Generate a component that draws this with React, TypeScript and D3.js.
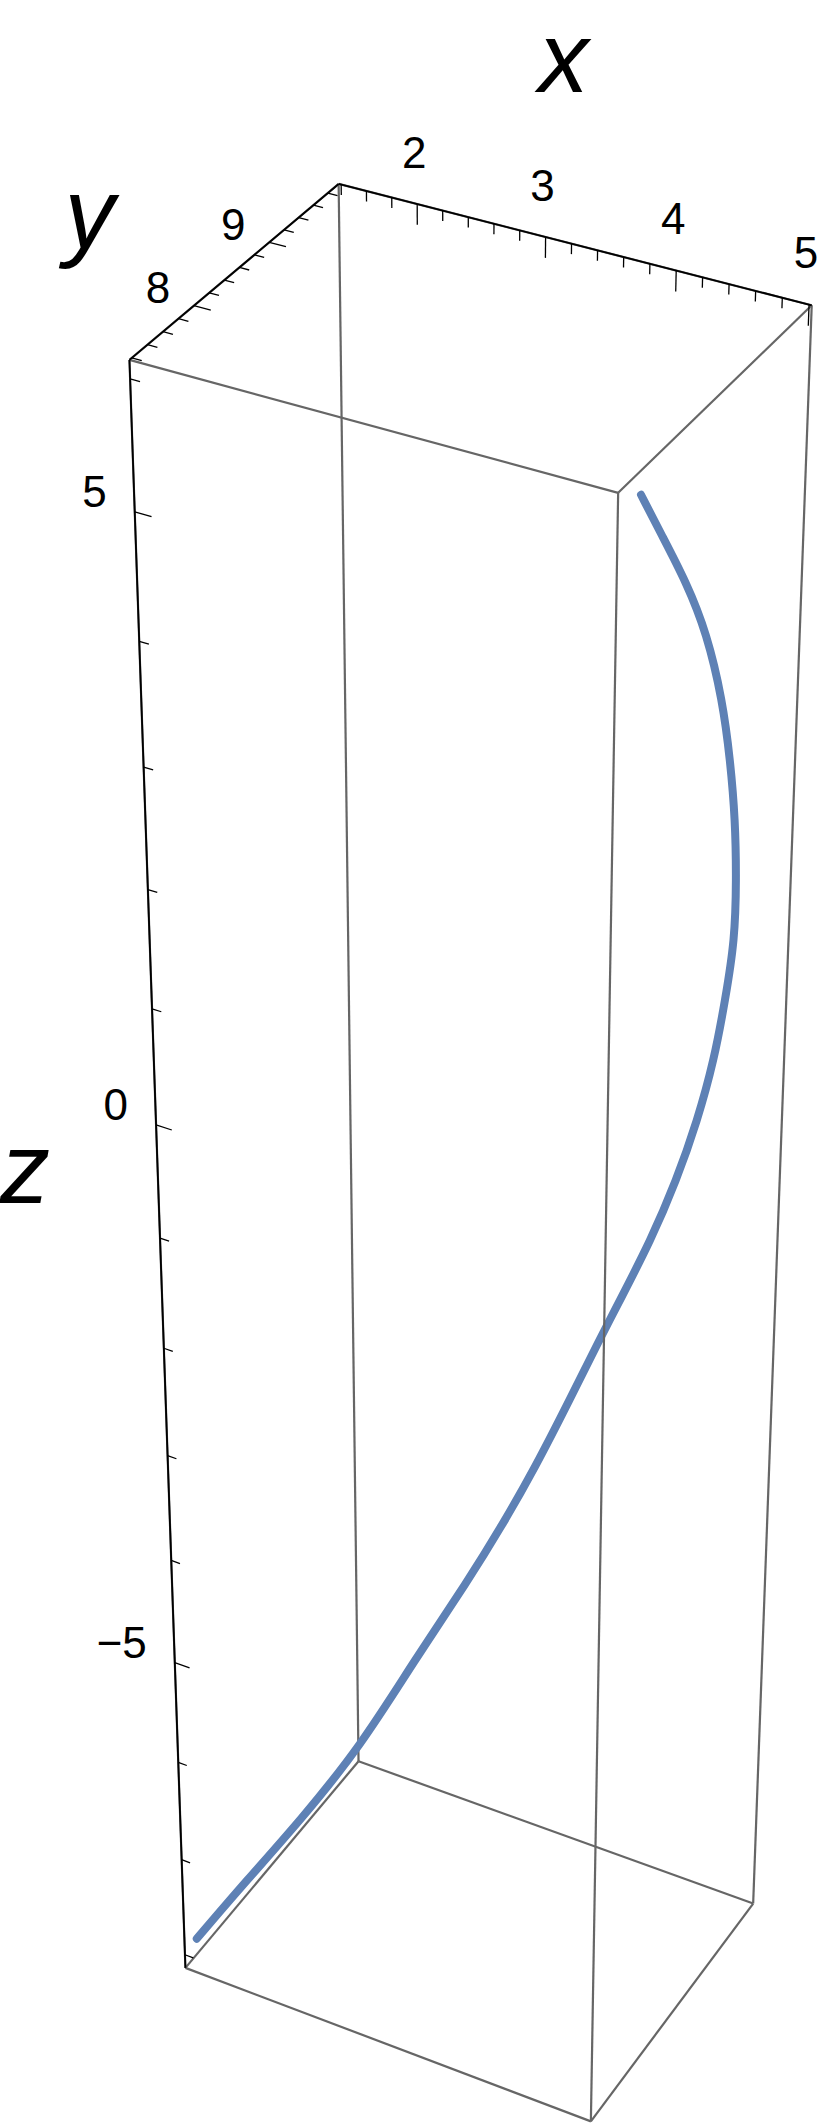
import React from 'react';
import * as d3 from 'd3';

const W = 830;
const H = 2123;

// plot range of the box
const xRange: [number, number] = [1.38, 5.02];
const yRange: [number, number] = [7.17, 9.95];
const zRange: [number, number] = [-8.14, 6.14];

// ticks
const xMajorTicks = [2, 3, 4, 5];
const xTickLabels = ['2', '3', '4', '5'];
const yMajorTicks = [8, 9];
const yTickLabels = ['8', '9'];
const zMajorTicks = [-5, 0, 5];
const zTickLabels = ['\u22125', '0', '5'];
const xMinorTicks = d3.range(7, 26).map(i => i / 5);
const yMinorTicks = d3.range(36, 50).map(i => i / 5);
const zMinorTicks = d3.range(-8, 7);

// space curve
const curveX = [4.98, 4.98, 4.97, 4.96, 4.93, 4.90, 4.85, 4.78, 4.70, 4.58, 4.47, 4.35, 4.24, 4.14, 4.03, 3.98, 3.85, 3.61, 3.45, 3.26, 2.93, 2.60, 2.19, 1.80, 1.42];
const curveY = [7.57, 7.86, 8.28, 8.62, 8.95, 9.16, 9.37, 9.56, 9.73, 9.85, 9.92, 9.91, 9.81, 9.61, 9.34, 9.12, 8.90, 8.81, 8.58, 8.40, 8.15, 7.88, 7.64, 7.45, 7.29];
const curveZ = [5.91, 5.48, 4.88, 4.31, 3.60, 2.99, 2.37, 1.74, 1.11, 0.49, -0.12, -0.70, -1.21, -1.66, -2.07, -2.30, -2.76, -3.43, -3.89, -4.36, -5.09, -5.88, -6.62, -7.26, -7.91];

// where the box corners sit on the page (camera calibration), key = x y z bits
const boxCornersPx: Record<string, [number, number]> = {
  '000': [185, 1968], '100': [591, 2121], '010': [359, 1761], '110': [753, 1904],
  '001': [129, 360], '101': [619, 493], '011': [339, 184], '111': [811, 305],
};

const sx = d3.scaleLinear().domain(xRange).range([0, 1]);
const sy = d3.scaleLinear().domain(yRange).range([0, 1]);
const sz = d3.scaleLinear().domain(zRange).range([0, 1]);

function solveLinear(A: number[][], b: number[]) {
  const n = b.length;
  const M = A.map((r, i) => [...r, b[i]]);
  for (let c = 0; c < n; c++) {
    let piv = c;
    for (let r = c + 1; r < n; r++) if (Math.abs(M[r][c]) > Math.abs(M[piv][c])) piv = r;
    [M[c], M[piv]] = [M[piv], M[c]];
    for (let r = 0; r < n; r++) {
      if (r === c) continue;
      const f = M[r][c] / M[c][c];
      for (let k = c; k <= n; k++) M[r][k] -= f * M[c][k];
    }
  }
  return M.map((r, i) => r[n] / r[i]);
}

// least squares perspective camera through the box corners
function fitCamera() {
  const rows: number[][] = [];
  const rhs: number[] = [];
  Object.entries(boxCornersPx).forEach(([key, [u, v]]) => {
    const [X, Y, Z] = key.split('').map(Number);
    rows.push([X, Y, Z, 1, 0, 0, 0, 0, -u * X, -u * Y, -u * Z]); rhs.push(u);
    rows.push([0, 0, 0, 0, X, Y, Z, 1, -v * X, -v * Y, -v * Z]); rhs.push(v);
  });
  const n = 11;
  const AtA = Array.from({ length: n }, () => Array(n).fill(0));
  const Atb = Array(n).fill(0);
  rows.forEach((r, k) => {
    for (let i = 0; i < n; i++) {
      Atb[i] += r[i] * rhs[k];
      for (let j = 0; j < n; j++) AtA[i][j] += r[i] * r[j];
    }
  });
  return solveLinear(AtA, Atb);
}

const P = fitCamera();

function project(x: number, y: number, z: number): [number, number] {
  const X = sx(x), Y = sy(y), Z = sz(z);
  const w = P[8] * X + P[9] * Y + P[10] * Z + 1;
  return [(P[0] * X + P[1] * Y + P[2] * Z + P[3]) / w, (P[4] * X + P[5] * Y + P[6] * Z + P[7]) / w];
}

const edges: [string, string][] = [
  ['000', '100'], ['010', '110'], ['001', '101'], ['011', '111'],
  ['000', '010'], ['100', '110'], ['001', '011'], ['101', '111'],
  ['000', '001'], ['100', '101'], ['010', '011'], ['110', '111'],
];
const cornerData = (key: string): [number, number, number] => {
  const [a, b, c] = key.split('').map(Number);
  return [xRange[a], yRange[b], zRange[c]];
};

export default function App() {
  const line = d3.line().curve(d3.curveBasis);
  const curvePath = line(curveX.map((x, i) => project(x, curveY[i], curveZ[i])));
  const xSpan = xRange[1] - xRange[0];
  const zSpan = zRange[1] - zRange[0];
  const edgeLine = (e: [string, string], key: string) => {
    const [p1, p2] = [project(...cornerData(e[0])), project(...cornerData(e[1]))];
    return <line key={key} x1={p1[0]} y1={p1[1]} x2={p2[0]} y2={p2[1]} stroke="#666" strokeWidth={2.2} />;
  };
  // edges meeting the far corner sit behind the curve
  const back = edges.filter(e => e.includes('010'));
  const front = edges.filter(e => !e.includes('010'));
  const seg = (a: [number, number], b: [number, number], key: string, sw = 1.3) => (
    <line key={key} x1={a[0]} y1={a[1]} x2={b[0]} y2={b[1]} stroke="#000" strokeWidth={sw} />
  );
  const [x0, x1] = xRange, [y0, y1] = yRange, [z0, z1] = zRange;
  const xTickLen = (major: boolean) => (major ? 0.011 : 0.0055) * zSpan;
  const yzTickLen = (major: boolean) => (major ? 0.036 : 0.021) * xSpan;

  const xMid = project((x0 + x1) / 2, y1, z1);
  const yMid = project(x0, (y0 + y1) / 2, z1);
  const zMid = project(x0, y0, (z0 + z1) / 2);

  return (
    <svg width={W} height={H} style={{ position: 'absolute', left: 0, top: 0, background: '#fff' }}
      fontFamily="'Liberation Sans', Arial, sans-serif">
      {back.map((e, i) => edgeLine(e, 'b' + i))}
      <path d={curvePath || ''} fill="none" stroke="#5E81B5" strokeWidth={8} strokeLinecap="round" />
      {front.map((e, i) => edgeLine(e, 'f' + i))}
      {seg(project(x0, y0, z0), project(x0, y0, z1), 'az', 1.8)}
      {seg(project(x0, y0, z1), project(x0, y1, z1), 'ay', 1.8)}
      {seg(project(x0, y1, z1), project(x1, y1, z1), 'ax', 1.8)}
      {xMinorTicks.map((t, i) => {
        const major = xMajorTicks.some(m => Math.abs(m - t) < 1e-6);
        return seg(project(t, y1, z1), project(t, y1, z1 - xTickLen(major)), 'xt' + i);
      })}
      {yMinorTicks.map((t, i) => {
        const major = yMajorTicks.some(m => Math.abs(m - t) < 1e-6);
        return seg(project(x0, t, z1), project(x0 + yzTickLen(major), t, z1), 'yt' + i);
      })}
      {zMinorTicks.map((t, i) => {
        const major = zMajorTicks.includes(t);
        return seg(project(x0, y0, t), project(x0 + yzTickLen(major), y0, t), 'zt' + i);
      })}
      {xMajorTicks.map((t, i) => {
        const [px, py] = project(t, y1, z1);
        return <text key={'xl' + i} x={px - 3} y={py - 36.5} fontSize={44} textAnchor="middle">{xTickLabels[i]}</text>;
      })}
      {yMajorTicks.map((t, i) => {
        const [px, py] = project(x0, t, z1);
        return <text key={'yl' + i} x={px - 36} y={py - 2.5} fontSize={44} textAnchor="middle">{yTickLabels[i]}</text>;
      })}
      {zMajorTicks.map((t, i) => {
        const [px, py] = project(x0, y0, t);
        return <text key={'zl' + i} x={px - 28} y={py - 4.5} fontSize={44} textAnchor="end">{zTickLabels[i]}</text>;
      })}
      <text x={xMid[0] - 8} y={xMid[1] - 152} fontSize={100} fontStyle="italic" textAnchor="middle">x</text>
      <text x={yMid[0] - 147} y={yMid[1] - 22} fontSize={100} fontStyle="italic" textAnchor="middle">y</text>
      <text x={zMid[0] - 135} y={zMid[1] - 35} fontSize={100} fontStyle="italic" textAnchor="middle">z</text>
    </svg>
  );
}
